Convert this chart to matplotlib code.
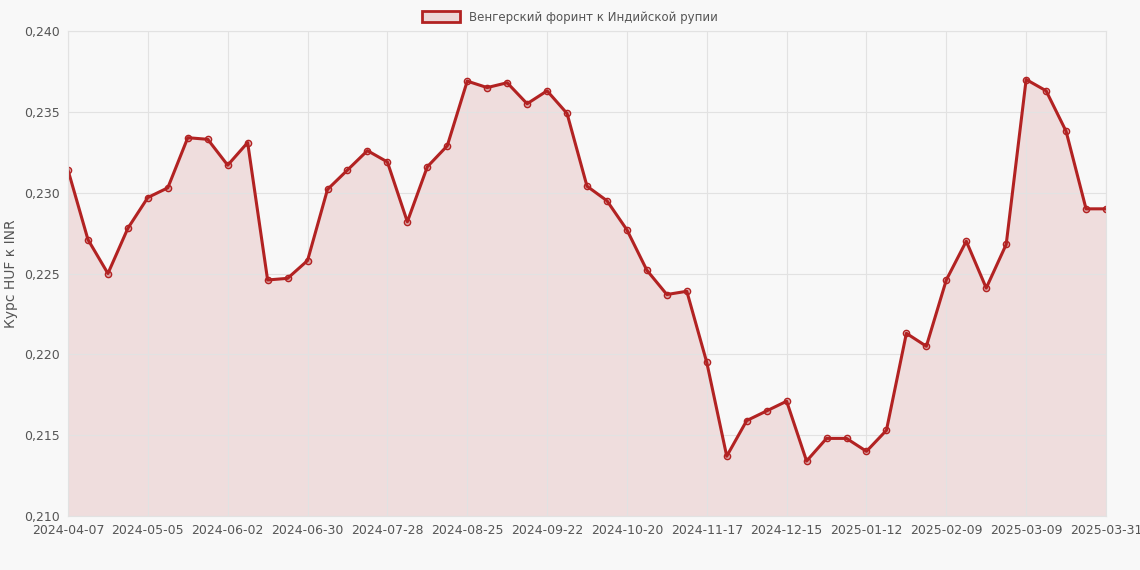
import matplotlib
matplotlib.use("Agg")
import matplotlib.pyplot as plt
import numpy as np
import pandas as pd

dates = [d.strftime("%Y-%m-%d") for d in pd.date_range("2024-04-07", "2025-03-30", freq="7D")] + ["2025-03-31"]
rates = [0.2314, 0.2271, 0.2250, 0.2278, 0.2297, 0.2303, 0.2334, 0.2333, 0.2317, 0.2331,
         0.2246, 0.2247, 0.2258, 0.2302, 0.2314, 0.2326, 0.2319, 0.2282, 0.2316, 0.2329,
         0.2369, 0.2365, 0.2368, 0.2355, 0.2363, 0.2349, 0.2304, 0.2295, 0.2277, 0.2252,
         0.2237, 0.2239, 0.2195, 0.2137, 0.2159, 0.2165, 0.2171, 0.2134, 0.2148, 0.2148,
         0.2140, 0.2153, 0.2213, 0.2205, 0.2246, 0.2270, 0.2241, 0.2268, 0.2370, 0.2363,
         0.2338, 0.2290, 0.2290]

color = "#b22222"
fig = plt.figure(figsize=(11.4, 5.7), dpi=100, facecolor="#f8f8f8")
ax = fig.add_axes([68 / 1140, 1 - 516 / 570, (1106 - 68) / 1140, (516 - 31) / 570])
ax.set_facecolor("#f8f8f8")
x = np.arange(len(rates))
ax.fill_between(x, rates, 0.21, color=color, alpha=0.12, linewidth=0)
ax.plot(x, rates, color=color, linewidth=2.2, marker="o", markersize=4.5,
        markerfacecolor=(178 / 255, 34 / 255, 34 / 255, 0.3), markeredgecolor=color,
        markeredgewidth=1)
ax.set_xlim(0, len(rates) - 1)
ax.set_ylim(0.21, 0.24)
ticks = list(range(0, len(rates) - 1, 4)) + [len(rates) - 1]
ax.set_xticks(ticks)
ax.set_xticklabels([dates[i] for i in ticks], fontsize=9, color="#555555")
yt = np.arange(0.21, 0.2401, 0.005)
ax.set_yticks(yt)
ax.set_yticklabels([f"{v:.3f}".replace(".", ",") for v in yt], fontsize=9, color="#555555")
ax.set_ylabel("Курс HUF к INR", fontsize=10, color="#555555")
ax.grid(True, color="#e2e2e2", linewidth=0.8)
ax.tick_params(length=0, pad=6)
for s in ax.spines.values():
    s.set_color("#e2e2e2")
leg = fig.legend(handles=[plt.Rectangle((0, 0), 1, 1, facecolor=(178 / 255, 34 / 255, 34 / 255, 0.15),
                                        edgecolor=color, linewidth=2)],
                 labels=["Венгерский форинт к Индийской рупии"], loc="upper center",
                 bbox_to_anchor=(0.5, 1.0), frameon=False, fontsize=8.5,
                 handlelength=3.2, handleheight=1.0)
for t in leg.get_texts():
    t.set_color("#555555")
fig.savefig("out.png", dpi=100, facecolor=fig.get_facecolor())
